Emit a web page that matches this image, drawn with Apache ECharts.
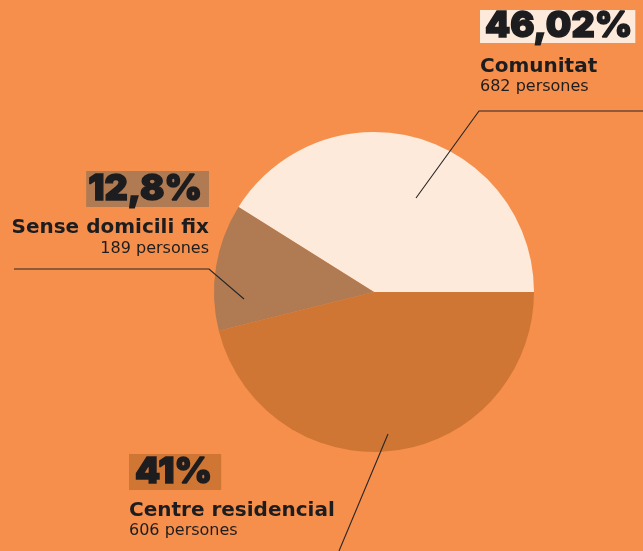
<!DOCTYPE html>
<html>
<head>
<meta charset="utf-8">
<script src="https://cdn.jsdelivr.net/npm/echarts@6/dist/echarts.min.js"></script>
<style>
  html, body { margin: 0; padding: 0; background: #F68F4B; }
  #chart { width: 643px; height: 551px; }
</style>
</head>
<body>
<div id="chart"></div>
<script>
    // data
    const categories = ['Comunitat', 'Sense domicili fix', 'Centre residencial'];
    const persones = [682, 189, 606];
    const pctLabels = ['46,02%', '12,8%', '41%'];
    // slice sizes as they are drawn in the source picture
    const sliceShares = [41, 12.8, 46.02];
    const sliceColors = ['#FEEADA', '#B07A52', '#D07634'];

    const ink = '#1d1d1f';
    const pctFont = '900 36px Inter, "DejaVu Sans", sans-serif';
    const nameFont = 'bold 20px "DejaVu Sans", sans-serif';
    const countFont = '16px "DejaVu Sans", sans-serif';

    // label blocks
    const labelPos = [
        {x: 480, align: 'left', pctY: 26.5, nameY: 67, countY: 87, pad: [0, 3, 0, 5], h: 33},
        {x: 209, align: 'right', pctY: 189, nameY: 228, countY: 249, pad: [0, 7, 0, 2], h: 36},
        {x: 129, align: 'left', pctY: 472, nameY: 511, countY: 531, pad: [0, 9, 0, 6], h: 36}
    ];
    const leaders = [
        [[416, 198], [479, 111], [643, 111]],
        [[244, 299], [209, 269], [14, 269]],
        [[388, 434], [339, 551]]
    ];

    let graphics = [];
    categories.forEach(function (name, i) {
        const p = labelPos[i];
        graphics.push({
            type: 'text', x: p.x, y: p.pctY,
            style: {
                text: pctLabels[i], fill: ink, font: pctFont,
                stroke: ink, lineWidth: 1.4,
                align: p.align, verticalAlign: 'middle',
                backgroundColor: sliceColors[i],
                padding: p.pad, lineHeight: p.h
            }
        });
        graphics.push({
            type: 'text', x: p.x, y: p.nameY,
            style: {
                text: name, fill: ink, font: nameFont,
                align: p.align, verticalAlign: 'middle'
            }
        });
        graphics.push({
            type: 'text', x: p.x, y: p.countY,
            style: {
                text: persones[i] + ' persones', fill: ink, font: countFont,
                align: p.align, verticalAlign: 'middle'
            }
        });
        graphics.push({
            type: 'polyline', z: 10,
            shape: {points: leaders[i]},
            style: {stroke: '#262626', lineWidth: 1.1, fill: null}
        });
    });

    const chart = echarts.init(document.getElementById('chart'));
    chart.setOption({
        backgroundColor: '#F68F4B',
        animation: false,
        series: [{
            type: 'pie',
            center: [374, 292],
            radius: [0, 160],
            startAngle: 0,
            clockwise: false,
            label: {show: false},
            labelLine: {show: false},
            data: categories.map(function (name, i) {
                return {name: name, value: sliceShares[i], itemStyle: {color: sliceColors[i]}};
            })
        }],
        graphic: graphics
    });
</script>
</body>
</html>
